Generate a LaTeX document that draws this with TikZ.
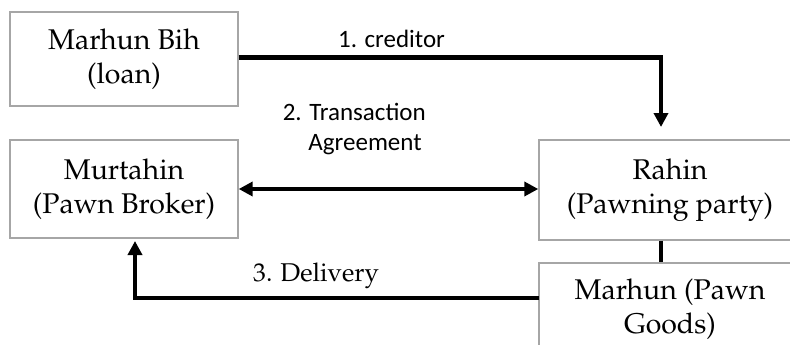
\documentclass[tikz,border=0pt]{standalone}
\usepackage[T1]{fontenc}
\usepackage{fontspec}
\newfontfamily\labelsans{Carlito}
\newcommand\palfont{\fontencoding{T1}\fontfamily{ppl}\selectfont}
\usetikzlibrary{arrows.meta}
\definecolor{boxgray}{HTML}{A6A6A6}
\begin{document}
\begin{tikzpicture}[x=1pt,y=-1pt,
  box/.style={draw=boxgray, line width=1.4pt, fill=white, align=center, inner sep=0pt,
    font=\palfont\fontsize{28.5}{34}\selectfont},
  conn/.style={line width=4.5pt},
  tip/.style={Triangle[length=14pt,width=14pt]},
  arr/.style={conn, -{Triangle[length=14pt,width=14pt]}},
  darr/.style={conn, {Triangle[length=14pt,width=14pt]}-{Triangle[length=14pt,width=14pt]}},
  lab/.style={inner sep=0pt, font=\labelsans\fontsize{25}{29.5}\selectfont},
  slab/.style={inner sep=0pt, font=\palfont\fontsize{25.7}{30}\selectfont}]
\useasboundingbox (0,0) rectangle (790,345);
\clip (0,0) rectangle (790,345);
\node[box, minimum width=228pt, minimum height=94pt] (b1) at (124,59) {Marhun Bih\\(loan)};
\node[box, minimum width=228pt, minimum height=98pt] (b2) at (124,189) {Murtahin\\(Pawn Broker)};
\node[box, minimum width=262pt, minimum height=100pt] (b3) at (670,190) {Rahin\\(Pawning party)};
\node[box, minimum width=262pt, minimum height=92pt] (b4) at (670,309) {Marhun (Pawn\\Goods)};
\coordinate (a1) at (661,127);
\draw[arr] (b1.east |- 0,57.5) -| (a1);
\draw[darr] (b2.east) -- (b2.east -| b3.west);
\draw[conn] (b3.south -| a1) -- (b4.north -| a1);
\coordinate (d0) at (539,298);
\coordinate (d1) at (135,241);
\draw[arr] (d0) -| (d1);
\node[lab, anchor=base] (l1) at (391.5,48) {1. creditor};
\node[lab, anchor=base east, align=right] (l2) at (426,150) {2. Transaction\\Agreement\,};
\node[slab, anchor=base] (l3) at (316,281) {3. Delivery};
\end{tikzpicture}
\end{document}
